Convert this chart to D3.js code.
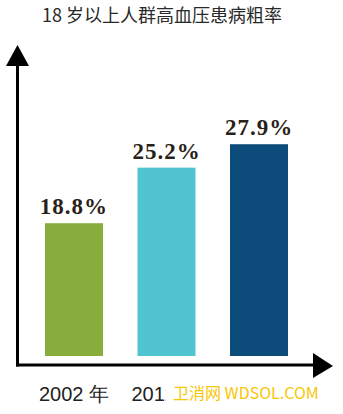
<!DOCTYPE html>
<html>
<head>
<meta charset="utf-8">
<script src="https://cdn.jsdelivr.net/npm/d3@7"></script>
<style>
  html, body { margin: 0; padding: 0; background: #fff; }
  svg { display: block; }
</style>
</head>
<body>
<div id="chart"></div>
<script>
// data
var years = ["2002年", "2012年", "2015年"]
var rates = [18.8, 25.2, 27.9]
var rateLabels = ["18.8%", "25.2%", "27.9%"]
var title = "18 岁以上人群高血压患病粗率"

var width = 343
var height = 414
var color = ["#88ad3c", "#50c5d0", "#0c4b7a"]

var svg = d3.select('#chart')
            .append('svg')
            .attr('width', width)
            .attr('height', height)

// title
svg.append('text')
    .attr('x', 42)
    .attr('y', 22)
    .attr('font-family', '"Noto Sans CJK SC", sans-serif')
    .attr('font-size', 18)
    .attr('fill', '#2a2a2a')
    .text(title)

// scales
var xScale = d3.scaleBand()
                .domain(years)
                .range([45, 288])
                .paddingInner(0.373)
                .paddingOuter(0)

var yScale = d3.scaleLinear()
                .domain([3.5, 30])
                .range([356, 126])

var data = years.map((y, i) => ({ year: y, value: rates[i], label: rateLabels[i] }))

// bars
svg.selectAll('.bar')
    .data(data)
    .enter()
    .append('rect')
        .attr('class', 'bar')
        .attr('x', d => xScale(d.year))
        .attr('y', d => yScale(d.value))
        .attr('width', xScale.bandwidth())
        .attr('height', d => yScale.range()[0] - yScale(d.value))
        .attr('fill', (d, i) => color[i % color.length])

// value labels
svg.selectAll('.val')
    .data(data)
    .enter()
    .append('text')
        .attr('class', 'val')
        .attr('x', d => xScale(d.year) + xScale.bandwidth() / 2)
        .attr('y', d => yScale(d.value) - 9)
        .attr('text-anchor', 'middle')
        .attr('font-family', 'Liberation Serif')
        .attr('font-weight', 'bold')
        .attr('font-size', 23)
        .attr('letter-spacing', 1)
        .attr('fill', '#2a1f1a')
        .text(d => d.label)

// axes (arrows)
var axisY = 365
var axisX = 17.5
svg.append('line')
    .attr('x1', axisX).attr('y1', axisY + 1.5)
    .attr('x2', axisX).attr('y2', 62)
    .attr('stroke', '#000').attr('stroke-width', 3)
svg.append('path')
    .attr('d', `M${axisX},45 L${axisX - 11.5},66 L${axisX + 11.5},66 Z`)
    .attr('fill', '#000')
svg.append('line')
    .attr('x1', axisX - 1.5).attr('y1', axisY)
    .attr('x2', 316).attr('y2', axisY)
    .attr('stroke', '#000').attr('stroke-width', 3)
svg.append('path')
    .attr('d', `M333,${axisY + 1} L313,${axisY - 12} L313,${axisY + 13} Z`)
    .attr('fill', '#000')

// category labels
var xAxis = d3.axisBottom(xScale)
    .tickSize(0)
    .tickPadding(22)
    .tickFormat(d => d.replace('年', ' 年'))
var gx = svg.append('g')
    .attr('transform', `translate(0,${axisY})`)
    .call(xAxis)
gx.select('.domain').remove()
gx.selectAll('text')
    .attr('font-family', '"Liberation Sans", Arial, sans-serif')
    .attr('font-size', 20)
    .attr('fill', '#222')

// watermark over the labels
svg.append('rect')
    .attr('x', 166).attr('y', 382)
    .attr('width', 154).attr('height', 22)
    .attr('fill', '#fff')
svg.append('text')
    .attr('x', 173)
    .attr('y', 399)
    .attr('font-family', '"Noto Sans CJK SC", sans-serif')
    .attr('font-size', 16)
    .attr('fill', '#f7c600')
    .text('卫消网 WDSOL.COM')
</script>
</body>
</html>
